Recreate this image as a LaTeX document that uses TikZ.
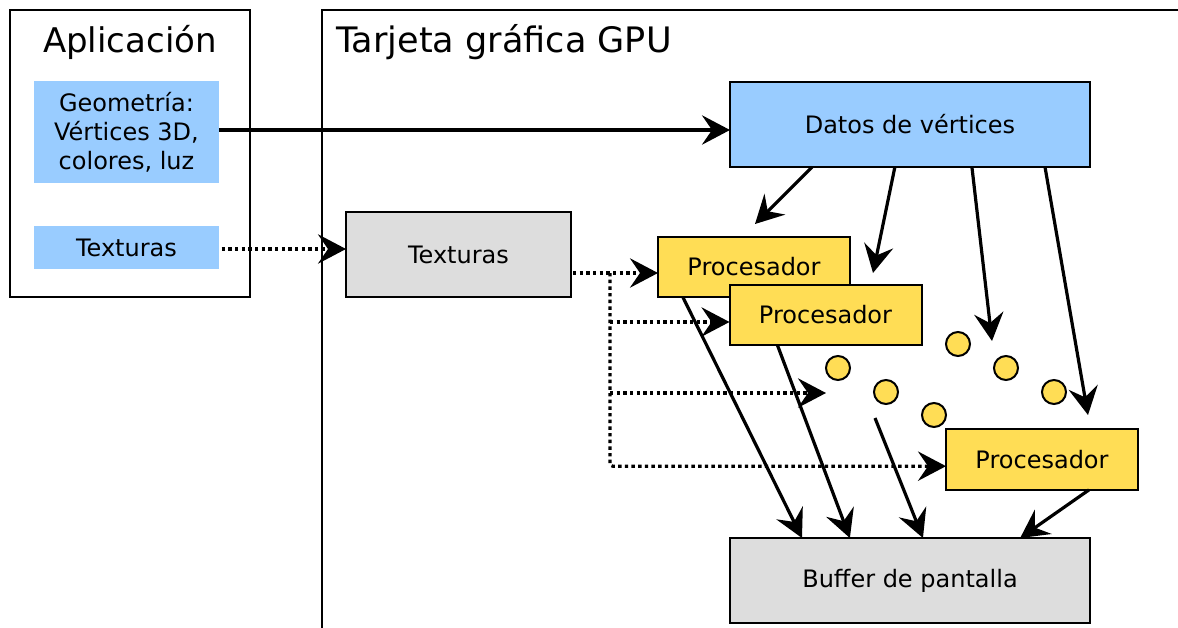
\documentclass[tikz,border=0pt]{standalone}
\usepackage{fontspec}
\setmainfont{DejaVu Sans}
\usetikzlibrary{arrows.meta,calc}

\definecolor{appblue}{HTML}{99CCFF}
\definecolor{procyellow}{HTML}{FFDD55}
\definecolor{boxgray}{HTML}{DDDDDD}

\tikzset{
  base/.style={inner sep=0pt, outer sep=0pt, font=\fontsize{18}{21.75}\selectfont, align=center},
  appbox/.style={base, fill=appblue},
  vbox/.style={base, fill=appblue, draw=black, line width=1.5pt},
  graybox/.style={base, fill=boxgray, draw=black, line width=1.5pt},
  procbox/.style={base, fill=procyellow, draw=black, line width=1.5pt,
    minimum width=144pt, minimum height=45.5pt},
  dot/.style={circle, fill=procyellow, draw=black, line width=1.5pt,
    minimum size=18pt, inner sep=0pt},
  tip/.style={-{Stealth[length=21pt,width=22pt,inset=7.5pt]}},
  flow/.style={tip, line width=2.4pt},
  dotted line/.style={line width=2.4pt, dash pattern=on 2.6pt off 2.4pt},
  dotflow/.style={tip, dotted line},
  title/.style={font=\fontsize{25.5}{30}\selectfont, inner sep=0pt},
  bigtitle/.style={font=\fontsize{26.3}{30}\selectfont, inner sep=0pt}
}

\begin{document}
\begin{tikzpicture}[x=0.75pt, y=-0.75pt]
  \useasboundingbox (0,0) rectangle (1178,628);
  \clip (0,0) rectangle (1178,628);

  % application frame and GPU card frame
  \draw[line width=1.5pt] (10,10) rectangle (250,297);
  \node[title, anchor=base] (apptitle) at (130,52) {Aplicación};
  \draw[line width=1.5pt] (322,640) -- (322,10) -- (1190,10);
  \node[bigtitle, anchor=base west] (gputitle) at (336,52) {Tarjeta gráfica GPU};

  % application data
  \node[appbox, minimum width=138.75pt, minimum height=76.5pt] (geo) at (126.5,132)
    {Geometría:\\Vértices 3D,\\colores, luz};
  \node[appbox, minimum width=138.75pt, minimum height=32.25pt] (texa) at (126.5,247.5) {Texturas};

  % GPU blocks
  \node[vbox, minimum width=270pt, minimum height=63.75pt] (datos) at (910,124.5) {Datos de vértices};
  \node[graybox, minimum width=168.75pt, minimum height=63.75pt] (texg) at (458.5,254.5) {Texturas};
  \node[procbox] (p1) at (754,267) {Procesador};
  \node[procbox] (p2) at (825.5,315) {Procesador};
  \node[procbox] (p3) at (1042,459.5) {Procesador};
  \node[graybox, minimum width=270pt, minimum height=63.75pt] (buf) at (910,580.5) {Buffer de pantalla};

  % ellipsis of further processors
  \node[dot] (d1) at (838,368) {};
  \node[dot] (d2) at (886,392) {};
  \node[dot] (d3) at (934,415) {};
  \node[dot] (d4) at (958,344) {};
  \node[dot] (d5) at (1006,368) {};
  \node[dot] (d6) at (1054,392) {};

  % application -> GPU
  \draw[flow] (geo.east |- 0,130) -- (datos.west |- 0,130);
  \draw[dotflow, shorten <=2pt] (texa.east |- 0,249) -- (texg.west |- 0,249);

  % texture distribution
  \coordinate (tx) at (573,273);
  \coordinate (bx) at (610,273);
  \coordinate (dfree) at (826,393);
  \draw[dotflow] (tx) -- (p1.west |- tx);
  \draw[dotflow, rounded corners=2pt] (bx) |- ([yshift=-5pt]p3.west);
  \draw[dotflow] (bx |- 0,322) -- (p2.west |- 0,322);
  \draw[dotflow] (bx |- dfree) -- (dfree);

  % vertex data -> processors
  \coordinate (v1) at (755,224);
  \coordinate (v2) at (873,273);
  \coordinate (v3) at (992,341);
  \coordinate (v4) at (1088,415);
  \draw[flow] ($(datos.south west)!0.228!(datos.south east)$) -- (v1);
  \draw[flow] ($(datos.south west)!0.458!(datos.south east)$) -- (v2);
  \draw[flow] ($(datos.south west)!0.672!(datos.south east)$) -- (v3);
  \draw[flow] ($(datos.south west)!0.875!(datos.south east)$) -- (v4);

  % processors -> frame buffer
  \coordinate (r3) at (875,418);
  \draw[flow] ($(p1.south west)!0.13!(p1.south east)$) -- ($(buf.north west)!0.2!(buf.north east)$);
  \draw[flow] ($(p2.south west)!0.25!(p2.south east)$) -- ($(buf.north west)!0.333!(buf.north east)$);
  \draw[flow] (r3) -- ($(buf.north west)!0.536!(buf.north east)$);
  \draw[flow] ($(p3.south west)!0.745!(p3.south east)$) -- ($(buf.north west)!0.806!(buf.north east)$);
\end{tikzpicture}
\end{document}
